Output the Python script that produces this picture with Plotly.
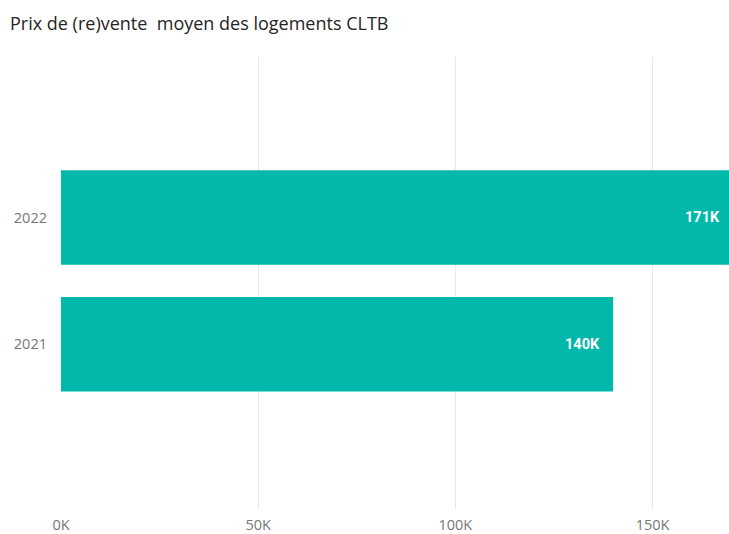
import plotly.graph_objects as go

# Average (re)sale price per year
years = ["2021", "2022"]
prices = [140000, 171000]
price_labels = ["140K", "171K"]

tick_vals = [0, 50000, 100000, 150000]
tick_text = ["0K", "50K", "100K", "150K"]

x_max = 169400
bar_color = "#01B8AA"

fig = go.Figure()
fig.add_trace(go.Bar(
    x=prices,
    y=years,
    orientation="h",
    width=0.746,
    marker=dict(color=bar_color, line=dict(width=0)),
    hoverinfo="skip",
))

# Value labels sit inside the end of each bar (clamped to the visible range)
for i, (v, lab) in enumerate(zip(prices, price_labels)):
    clipped = v > x_max
    fig.add_annotation(
        x=min(v, x_max), y=i, xref="x", yref="y",
        text=lab, showarrow=False, xanchor="right", yanchor="middle",
        xshift=-7 if clipped else -11,
        font=dict(family="Roboto", size=14.5, color="white", weight="bold"),
    )

fig.update_layout(
    width=729, height=534,
    margin=dict(l=61, r=0, t=57, b=22),
    paper_bgcolor="white", plot_bgcolor="white",
    showlegend=False,
    title=dict(
        text="Prix de (re)vente \u00a0moyen des logements CLTB",
        x=10 / 729, xref="container", xanchor="left",
        y=1, yref="container", yanchor="top",
        pad=dict(t=17),
        font=dict(family="Open Sans", size=18, color="#252423"),
    ),
)

fig.update_xaxes(
    range=[0, x_max],
    tickvals=tick_vals, ticktext=tick_text,
    showgrid=True, gridcolor="#E8E8E8", gridwidth=1,
    zeroline=False, showline=False, ticks="",
    tickfont=dict(family="Open Sans", size=14.5, color="#777777"),
    ticklabelstandoff=5,
    fixedrange=True,
)
fig.update_yaxes(
    type="category", categoryorder="array", categoryarray=years,
    range=[-1.30, 2.266],
    showgrid=False, zeroline=False, showline=False, ticks="",
    tickfont=dict(family="Open Sans", size=14.5, color="#777777"),
    ticklabelstandoff=13,
    fixedrange=True,
)

fig.write_html("out.html")
